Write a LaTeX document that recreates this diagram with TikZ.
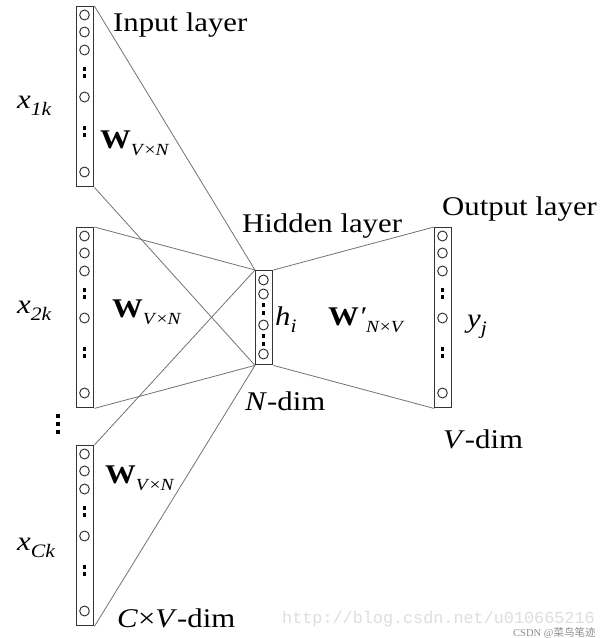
\documentclass[tikz,border=0pt]{standalone}
\usepackage{graphicx}
\usepackage{fontspec}
\usetikzlibrary{shapes.geometric}
\setmainfont{Liberation Serif}
\setmonofont{Liberation Mono}
\newfontfamily\cjk{Noto Sans CJK SC}
\newcommand\wide[1]{\scalebox{1.14}[1]{#1}}
\newcommand\Wsub[1]{\textbf{W}\raisebox{-0.28em}{\fontsize{17}{20}\selectfont\textit{#1}}}
\begin{document}
\begin{tikzpicture}[x=1pt,y=-1pt,
  layerbox/.style={draw=black!80, line width=1.4pt, rectangle, inner sep=0pt, minimum width=17pt, anchor=north west},
  neuron/.style={draw=black!85, line width=0.9pt, ellipse, inner sep=0pt, minimum width=9.6pt, minimum height=10pt},
  dotsq/.style={fill=black, inner sep=0pt, minimum size=3.8pt, rectangle},
  conn/.style={draw=black!55, line width=0.8pt},
  lbl/.style={font=\fontsize{27}{32}\selectfont, inner sep=0pt, anchor=base west},
  wm/.style={inner sep=0pt, anchor=base west}
]
\useasboundingbox (0,0) rectangle (609,638);
\path[fill=white] (0,0) rectangle (609,638);

% input and output columns
\foreach \nm/\xx/\yy in {c1/76/6, c2/76/227, c3/76/445, out/434/227}{
  \node[layerbox, minimum height=180pt] (\nm) at (\xx,\yy) {};
  \foreach \k/\dy in {1/9, 2/26, 3/44, 4/91, 5/166}
    \node[neuron] (\nm n\k) at (\xx+8.5,\yy+\dy) {};
  \foreach \k/\dy in {1/63, 2/70, 3/122, 4/129}
    \node[dotsq] (\nm d\k) at (\xx+8.5,\yy+\dy) {};
}
% hidden column
\node[layerbox, minimum height=94pt] (hid) at (255,270) {};
\foreach \k/\dy in {1/10, 2/24, 3/55, 4/84}
  \node[neuron] (hn\k) at (263.5,270+\dy) {};
\foreach \k/\dy in {1/35, 2/43, 3/66, 4/74}
  \node[dotsq] (hd\k) at (263.5,270+\dy) {};

% connectors
\draw[conn] (c1.north east) -- (hid.north west);
\draw[conn] (c1.south east) -- (hid.south west);
\draw[conn] (c2.north east) -- (hid.north west);
\draw[conn] (c2.south east) -- (hid.south west);
\draw[conn] (c3.north east) -- (hid.north west);
\draw[conn] (c3.south east) -- (hid.south west);
\draw[conn] (hid.north east) -- (out.north west);
\draw[conn] (hid.south east) -- (out.south west);

% vertical dots between input groups
\foreach \k/\yy in {1/416, 2/424, 3/432}
  \node[dotsq] (vd\k) at (58,\yy) {};

% labels
\node[lbl] (tin) at (113,31) {\wide{Input layer}};
\node[lbl] (thid) at (242,232) {\wide{Hidden layer}};
\node[lbl] (tout) at (442,215) {\wide{Output layer}};
\node[lbl] (x1) at (17,108) {\wide{\textit{x}\raisebox{-0.28em}{\fontsize{19}{22}\selectfont\textit{1k}}}};
\node[lbl] (x2) at (17,313) {\wide{\textit{x}\raisebox{-0.28em}{\fontsize{19}{22}\selectfont\textit{2k}}}};
\node[lbl] (xc) at (17,550) {\wide{\textit{x}\raisebox{-0.28em}{\fontsize{19}{22}\selectfont\textit{Ck}}}};
\node[lbl] (w1) at (100,148) {\wide{\Wsub{V}\raisebox{-0.28em}{\fontsize{17}{20}\selectfont×\textit{N}}}};
\node[lbl] (w2) at (112,317) {\wide{\Wsub{V}\raisebox{-0.28em}{\fontsize{17}{20}\selectfont×\textit{N}}}};
\node[lbl] (w3) at (105,483) {\wide{\Wsub{V}\raisebox{-0.28em}{\fontsize{17}{20}\selectfont×\textit{N}}}};
\node[lbl] (wp) at (328,325) {\wide{\textbf{W}\textit{\char"2032}\raisebox{-0.28em}{\fontsize{17}{20}\selectfont\textit{N}×\textit{V}}}};
\node[lbl] (hi) at (275,325) {\wide{\textit{h}\raisebox{-0.28em}{\fontsize{19}{22}\selectfont\textit{i}}}};
\node[lbl] (yj) at (467,327) {\wide{\textit{y}\raisebox{-0.28em}{\fontsize{19}{22}\selectfont\textit{j}}}};
\node[lbl] (nd) at (245,410) {\wide{\textit{N}-dim}};
\node[lbl] (vd) at (443,448) {\wide{\textit{V}-dim}};
\node[lbl] (cvd) at (117,627) {\wide{\textit{C}×\textit{V}-dim}};

% watermark
\node[wm, text=black!13] (wm1) at (282,623) {\fontsize{16.8}{18}\selectfont\ttfamily http://blog.csdn.net/u010665216};
\node[wm, text=black!45] (wm2) at (513,636) {\fontsize{10.5}{12}\selectfont CSDN @{\cjk 菜鸟笔迹}};
\end{tikzpicture}
\end{document}
